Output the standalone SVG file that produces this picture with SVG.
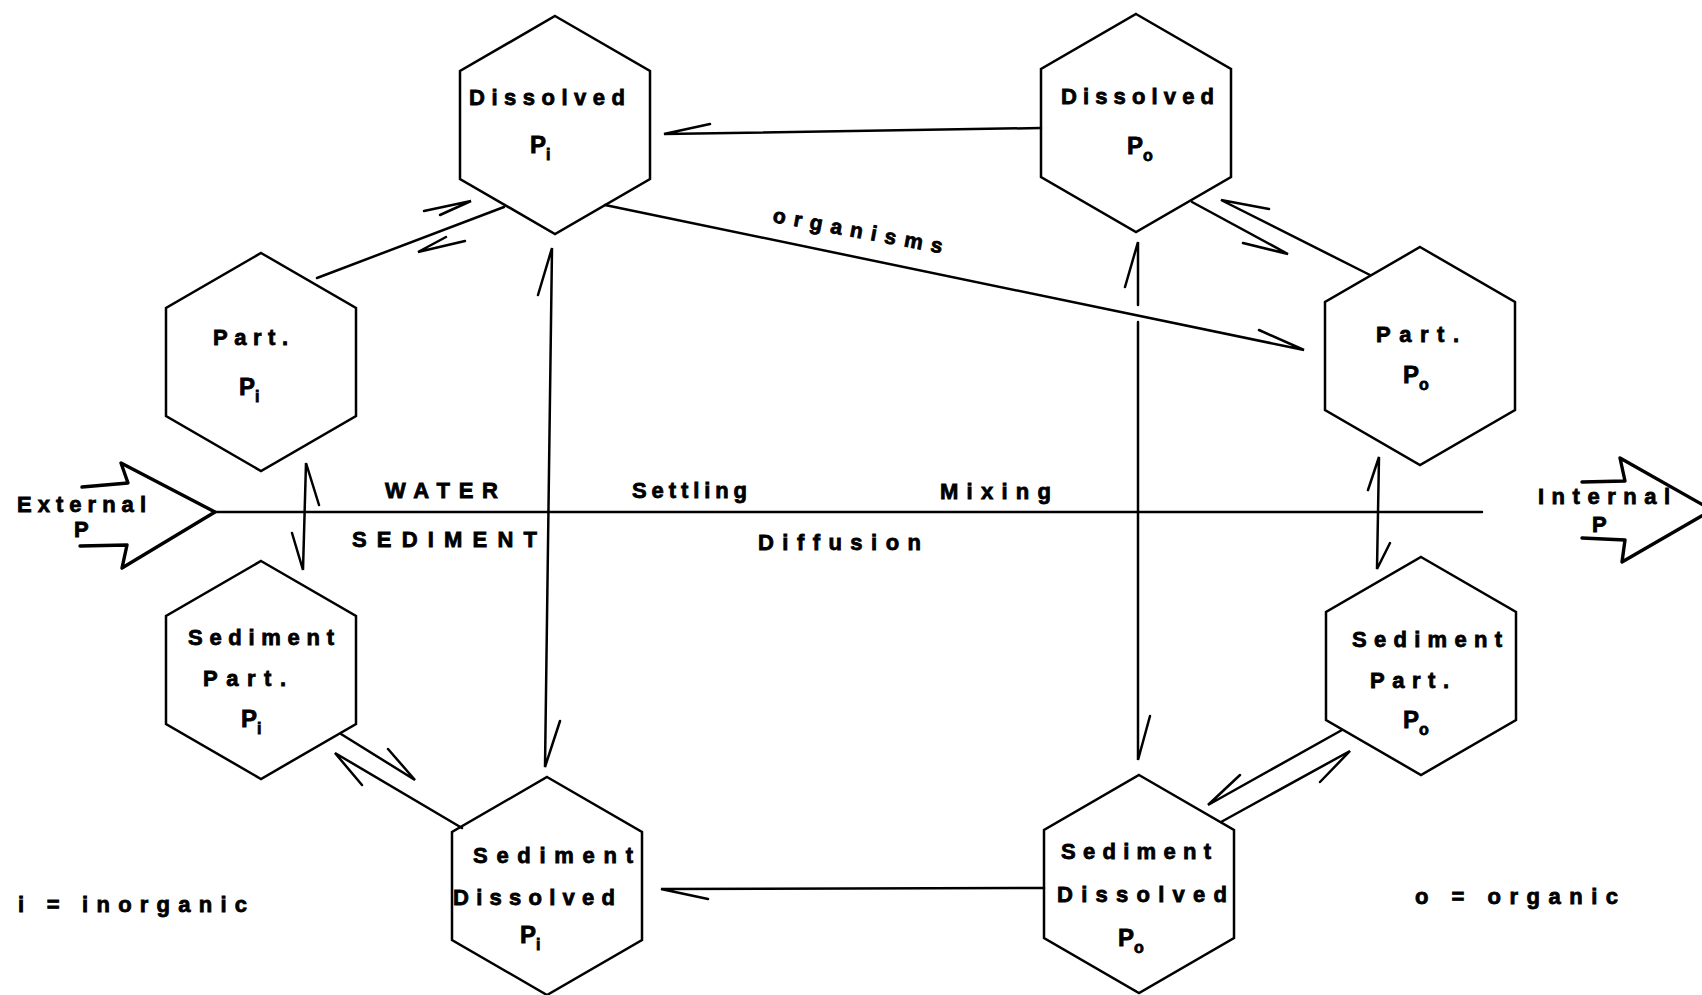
<svg xmlns="http://www.w3.org/2000/svg" width="1702" height="995" viewBox="0 0 1702 995">
<style>
.hex{fill:none;stroke:#000;stroke-width:2.5;stroke-linejoin:miter}
.ln{fill:none;stroke:#000;stroke-width:2.5;stroke-linecap:round}
.big{fill:none;stroke:#000;stroke-width:3.4;stroke-linejoin:round;stroke-linecap:round}
text{font-family:"Liberation Sans",Arial,sans-serif;font-weight:bold;font-size:22px;fill:#000;stroke:#000;stroke-width:0.8}
.p{font-size:24px}
.sub{font-size:16px}
</style>
<rect width="1702" height="995" fill="#fff"/>
<g id="n-dissolved-pi">
<polygon class="hex" points="555,16 650,71 650,179 555,234 460,179 460,71"/>
<text x="469" y="105" textLength="156" lengthAdjust="spacing">Dissolved</text>
<text class="p" x="530" y="153">P<tspan class="sub" dy="7">i</tspan></text>
</g>
<g id="n-dissolved-po">
<polygon class="hex" points="1136,14 1231,69 1231,177 1136,232 1041,177 1041,69"/>
<text x="1061" y="104" textLength="153" lengthAdjust="spacing">Dissolved</text>
<text class="p" x="1127" y="154">P<tspan class="sub" dy="7">o</tspan></text>
</g>
<g id="n-part-pi">
<polygon class="hex" points="261,253 356,308 356,416 261,471 166,416 166,308"/>
<text x="213" y="345" textLength="75" lengthAdjust="spacing">Part.</text>
<text class="p" x="239" y="395">P<tspan class="sub" dy="7">i</tspan></text>
</g>
<g id="n-part-po">
<polygon class="hex" points="1420,247 1515,302 1515,410 1420,465 1325,410 1325,302"/>
<text x="1376" y="342" textLength="83" lengthAdjust="spacing">Part.</text>
<text class="p" x="1403" y="383">P<tspan class="sub" dy="7">o</tspan></text>
</g>
<g id="n-sed-part-pi">
<polygon class="hex" points="261,561 356,616 356,724 261,779 166,724 166,616"/>
<text x="188" y="645" textLength="146" lengthAdjust="spacing">Sediment</text>
<text x="203" y="686" textLength="83" lengthAdjust="spacing">Part.</text>
<text class="p" x="241" y="727">P<tspan class="sub" dy="7">i</tspan></text>
</g>
<g id="n-sed-diss-pi">
<polygon class="hex" points="547,777 642,832 642,940 547,995 452,940 452,832"/>
<text x="473" y="863" textLength="160" lengthAdjust="spacing">Sediment</text>
<text x="453" y="905" textLength="162" lengthAdjust="spacing">Dissolved</text>
<text class="p" x="520" y="943">P<tspan class="sub" dy="7">i</tspan></text>
</g>
<g id="n-sed-part-po">
<polygon class="hex" points="1421,557 1516,612 1516,720 1421,775 1326,720 1326,612"/>
<text x="1352" y="647" textLength="150" lengthAdjust="spacing">Sediment</text>
<text x="1370" y="688" textLength="79" lengthAdjust="spacing">Part.</text>
<text class="p" x="1403" y="728">P<tspan class="sub" dy="7">o</tspan></text>
</g>
<g id="n-sed-diss-po">
<polygon class="hex" points="1139,775 1234,830 1234,938 1139,993 1044,938 1044,830"/>
<text x="1061" y="859" textLength="150" lengthAdjust="spacing">Sediment</text>
<text x="1057" y="902" textLength="170" lengthAdjust="spacing">Dissolved</text>
<text class="p" x="1118" y="946">P<tspan class="sub" dy="7">o</tspan></text>
</g>
<g id="external">
<path class="big" d="M82,487 L128,483 L121,463 L215,512 L122,568 L127,545 L80,546"/>
<text x="17" y="512" textLength="129" lengthAdjust="spacing">External</text>
<text x="74" y="537">P</text>
</g>
<g id="internal">
<path class="big" d="M1582,482 L1625,481 L1620,458 L1712,510 L1622,562 L1625,540 L1582,538"/>
<text x="1538" y="504" textLength="132" lengthAdjust="spacing">Internal</text>
<text x="1592" y="532">P</text>
</g>
<g id="connectors">
<line class="ln" x1="215" y1="512" x2="1482" y2="512"/>
<path class="ln" d="M1041,128 L664,134 L710,124"/>
<path class="ln" d="M1044,888 L661,889 L708,899"/>
<path class="ln" d="M605,205 L1304,350 L1259,330"/>
<path class="ln" d="M538,295 L552,248 L545,767 L560,721"/>
<path class="ln" d="M1125,287 L1138,242 L1138,305"/>
<path class="ln" d="M1138,322 L1138,760 L1150,716"/>
<path class="ln" d="M319,505 L306,463 L303,570 L292,533"/>
<path class="ln" d="M1368,490 L1379,457 L1377,569 L1390,543"/>
<path class="ln" d="M341,734 L415,780 L388,749"/>
<path class="ln" d="M462,828 L335,753 L362,785"/>
<path class="ln" d="M1342,730 L1208,805 L1240,775"/>
<path class="ln" d="M1221,822 L1350,751 L1320,782"/>
<path class="ln" d="M1192,202 L1288,254 L1243,243"/>
<path class="ln" d="M1370,275 L1221,200 L1269,209"/>
<path class="ln" d="M317,278 L504,207"/>
<path class="ln" d="M440,215 L471,201 L424,211"/>
<path class="ln" d="M465,241 L418,252 L446,237"/>
</g>
<g id="labels">
<text x="385" y="498" textLength="113" lengthAdjust="spacing">WATER</text>
<text x="632" y="498" textLength="115" lengthAdjust="spacing">Settling</text>
<text x="940" y="499" textLength="111" lengthAdjust="spacing">Mixing</text>
<text x="352" y="547" textLength="185" lengthAdjust="spacing">SEDIMENT</text>
<text x="758" y="550" textLength="163" lengthAdjust="spacing">Diffusion</text>
<text x="772" y="222" transform="rotate(10.5 772 222)" textLength="172" lengthAdjust="spacing" style="font-size:21px">organisms</text>
<text x="18" y="912" textLength="229" lengthAdjust="spacing">i = inorganic</text>
<text x="1415" y="904" textLength="203" lengthAdjust="spacing">o = organic</text>
</g>
</svg>
